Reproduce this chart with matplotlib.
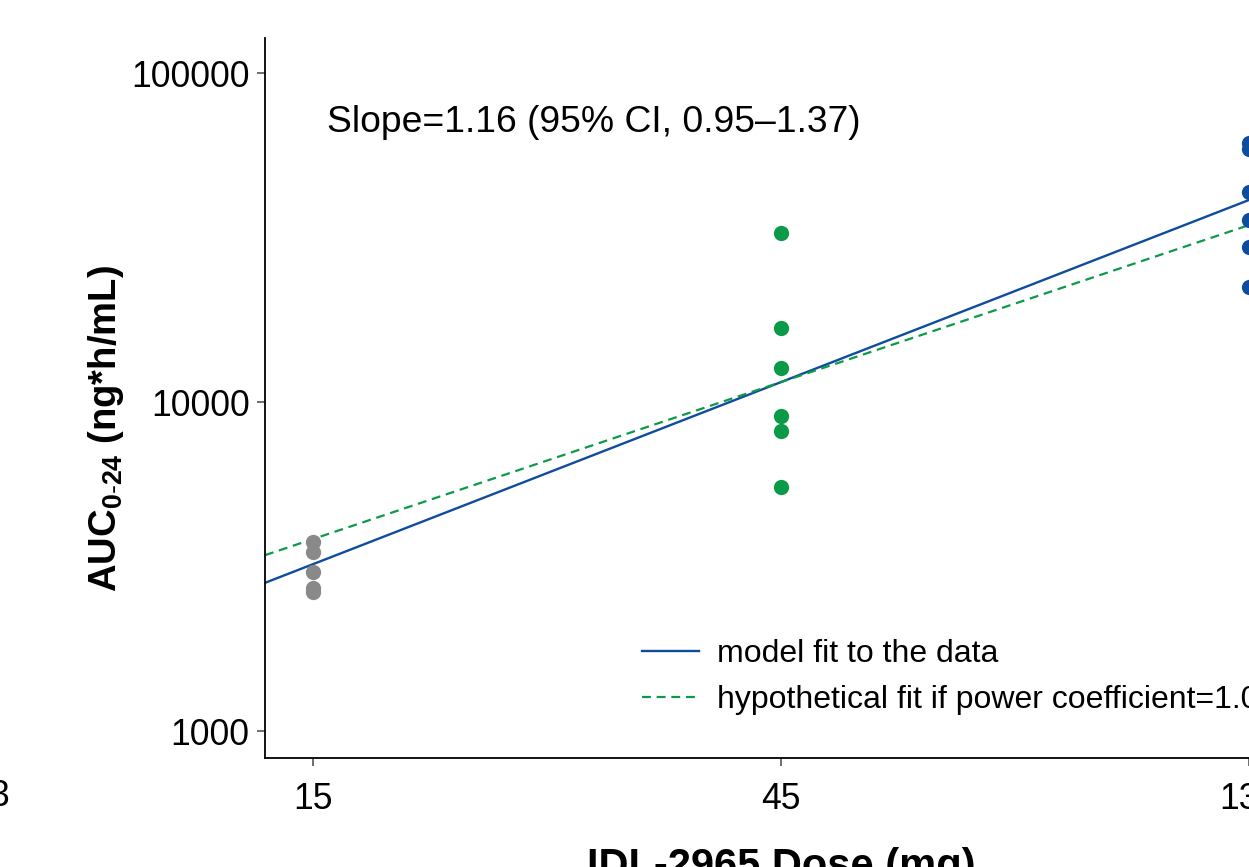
import numpy as np
import matplotlib
matplotlib.use("Agg")
import matplotlib.pyplot as plt
from matplotlib.ticker import FixedLocator, NullLocator, FixedFormatter

plt.rcParams['font.family'] = ['Liberation Sans', 'DejaVu Sans']
plt.rcParams['mathtext.fontset'] = 'custom'
plt.rcParams['mathtext.rm'] = 'Liberation Sans'
plt.rcParams['mathtext.bf'] = 'Liberation Sans:bold'
plt.rcParams['mathtext.it'] = 'Liberation Sans:italic'

# Data (AUC0-24, ng*h/mL)
dose_15 = [15, 15, 15, 15, 15]
auc_15 = [3760, 3490, 3040, 2720, 2645]
dose_45 = [45, 45, 45, 45, 45, 45]
auc_45 = [32600, 16750, 12660, 9070, 8180, 5500]
dose_135 = [135, 135, 135, 135, 135, 135]
auc_135 = [61400, 58600, 43600, 35700, 29650, 22400]

# fitted power model: AUC = ref_auc * (dose / ref_dose) ** slope
fit_slope = 1.16
hyp_slope = 1.0
ref_dose = 45
ref_auc = 11500

x_ticks = [15, 45, 135]
x_ticklabels = ['15', '45', '135']
y_ticks = [1000, 10000, 100000]
y_ticklabels = ['1000', '10000', '100000']

GRAY = '#898989'
GREEN = '#0a9a48'
BLUE = '#0f4c9c'

W, H = 1249, 867
fig = plt.figure(figsize=(W / 100, H / 100), dpi=100)
ax = fig.add_axes([265 / W, 109 / H, (1297 - 265) / W, (829 - 109) / H])
ax.set_xscale('log')
ax.set_yscale('log')
xlim = (13.40, 151.1)
ax.set_xlim(*xlim)
ax.set_ylim(828, 127800)

xs = np.array(xlim)
ax.plot(xs, ref_auc * (xs / ref_dose) ** fit_slope, color=BLUE, lw=1.7,
        label='model fit to the data', zorder=2)
ax.plot(xs, ref_auc * (xs / ref_dose) ** hyp_slope, color=GREEN, lw=1.6,
        ls=(0, (4, 2.6)), label='hypothetical fit if power coefficient=1.0',
        zorder=2)

ax.plot(dose_15, auc_15, 'o', color=GRAY, ms=11, mew=0, zorder=3)
ax.plot(dose_45, auc_45, 'o', color=GREEN, ms=11, mew=0, zorder=3)
ax.plot(dose_135, auc_135, 'o', color=BLUE, ms=11, mew=0, zorder=3,
        clip_on=False)

ax.xaxis.set_major_locator(FixedLocator(x_ticks))
ax.xaxis.set_major_formatter(FixedFormatter(x_ticklabels))
ax.xaxis.set_minor_locator(NullLocator())
ax.yaxis.set_major_locator(FixedLocator(y_ticks))
ax.yaxis.set_major_formatter(FixedFormatter(y_ticklabels))
ax.yaxis.set_minor_locator(NullLocator())

ax.spines['top'].set_visible(False)
ax.spines['right'].set_visible(False)
for s in ('left', 'bottom'):
    ax.spines[s].set_linewidth(1.3)
ax.tick_params(axis='both', length=6, width=1.2, color='#555555',
               labelsize=25.6, pad=5)
ax.tick_params(axis='x', pad=11)

ax.set_ylabel(r'$\mathbf{AUC_{0\text{-}24}}$ (ng*h/mL)', fontsize=27.5,
              fontweight='bold')
ax.yaxis.set_label_coords(-0.1345, 0.458)
ax.set_xlabel('IDL-2965 Dose (mg)', fontsize=30, fontweight='bold',
              labelpad=22)

ax.text(0.060, 0.883, 'Slope=1.16 (95% CI, 0.95\u20131.37)', fontsize=26.8,
        transform=ax.transAxes, va='center', ha='left')

ax.legend(loc='center left', bbox_to_anchor=(613 / W, (867 - 677) / H),
          bbox_transform=fig.transFigure, frameon=False, fontsize=23,
          handlelength=1.8, handletextpad=0.55, labelspacing=0.51)

# cut-off tick label of the neighbouring panel
fig.text(9 / W, (867 - 796) / H, '3', fontsize=25.6, ha='right', va='center')

fig.savefig('out.png', dpi=100)
